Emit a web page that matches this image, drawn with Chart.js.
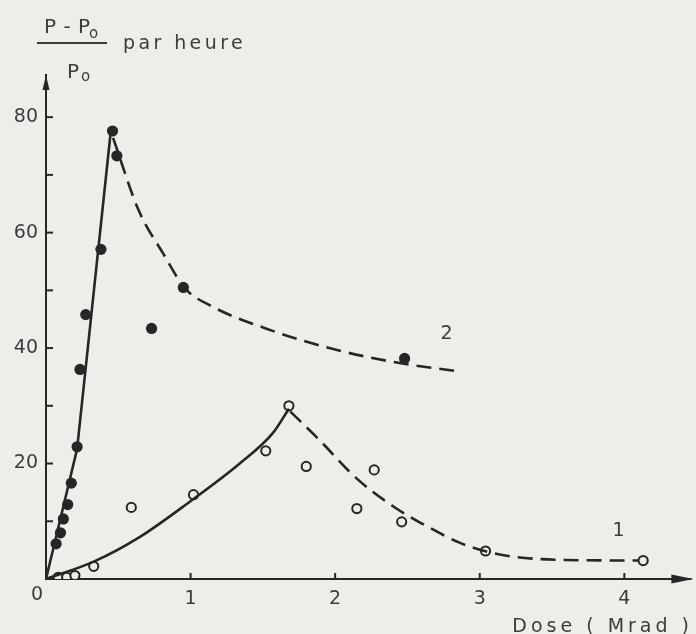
<!DOCTYPE html>
<html>
<head>
<meta charset="utf-8">
<script src="https://cdn.jsdelivr.net/npm/chart.js@4"></script>
<style>
  html, body { margin: 0; padding: 0; background: #eeede9; }
  #wrap { width: 696px; height: 634px; }
</style>
</head>
<body>
<div id="wrap"><canvas id="chart"></canvas></div>
<script>
// curve 1 (open circles)
const dose1 = [0.085, 0.143, 0.2, 0.33, 0.59, 1.02, 1.52, 1.68, 1.8, 2.15, 2.27, 2.46, 3.04, 4.13];
const rate1 = [0.3, 0.3, 0.6, 2.2, 12.4, 14.6, 22.2, 30.0, 19.5, 12.2, 18.9, 9.9, 4.85, 3.2];
// curve 2 (filled circles)
const dose2 = [0.07, 0.10, 0.12, 0.15, 0.175, 0.215, 0.235, 0.275, 0.38, 0.46, 0.49, 0.73, 0.95, 2.48];
const rate2 = [6.1, 8.0, 10.4, 12.9, 16.6, 22.9, 36.3, 45.8, 57.1, 77.6, 73.3, 43.4, 50.5, 38.2];

// hand-drawn fit lines
const fit1RiseDose = [0, 0.33, 0.65, 0.99, 1.34, 1.57, 1.68];
const fit1RiseRate = [0, 3.0, 7.3, 13.3, 20.0, 25.3, 29.5];
const fit1FallDose = [1.69, 1.89, 2.14, 2.4, 2.63, 2.86, 3.04, 3.25, 3.59, 4.1];
const fit1FallRate = [29.0, 24.1, 17.6, 12.6, 9.2, 6.3, 4.8, 3.8, 3.3, 3.2];
const fit2RiseDose = [0, 0.215, 0.45];
const fit2RiseRate = [0, 22.5, 78];
const fit2FallDose = [0.464, 0.64, 0.81, 0.96, 1.15, 1.52, 1.96, 2.4, 2.87];
const fit2FallRate = [76.4, 63.9, 56.4, 50.4, 47.2, 43.4, 40, 37.6, 35.9];

const curveNames = ['1', '2'];
const curveNameAt = [[3.96, 8.8], [2.77, 42.9]];

const xTicks = [0, 1, 2, 3, 4];
const yTicks = [0, 20, 40, 60, 80];

const BG = '#eeede9';
const INK = '#262626';
const TEXT = '#3c3c3c';
const FONT = '"DejaVu Sans", sans-serif';

const pts = (xs, ys) => xs.map((x, i) => ({ x: x, y: ys[i] }));

function fitLine(xs, ys, dashed, smooth) {
  return {
    data: pts(xs, ys),
    borderColor: INK,
    borderWidth: 2.6,
    borderDash: dashed ? [15, 8] : [],
    pointRadius: 0,
    fill: false,
    cubicInterpolationMode: smooth ? 'monotone' : 'default',
    tension: 0
  };
}

function text(ctx, str, x, y, size, align, spacing) {
  ctx.save();
  ctx.font = size + 'px ' + FONT;
  ctx.fillStyle = TEXT;
  ctx.textAlign = align || 'left';
  ctx.textBaseline = 'alphabetic';
  ctx.letterSpacing = (spacing || 0) + 'px';
  ctx.fillText(str, x, y);
  ctx.restore();
}

const decor = {
  id: 'decor',
  beforeDraw(chart) {
    const ctx = chart.ctx;
    ctx.save();
    ctx.fillStyle = BG;
    ctx.fillRect(0, 0, chart.width, chart.height);
    ctx.restore();
  },
  afterDraw(chart) {
    const ctx = chart.ctx;
    const xs = chart.scales.x, ys = chart.scales.y;
    const a = chart.chartArea;
    const x0 = xs.getPixelForValue(0), y0 = ys.getPixelForValue(0);

    ctx.save();
    ctx.strokeStyle = INK;
    ctx.fillStyle = INK;
    ctx.lineWidth = 2;

    // inward tick marks
    for (let v = 10; v < ys.max; v += 10) {
      const py = ys.getPixelForValue(v);
      ctx.beginPath(); ctx.moveTo(x0, py); ctx.lineTo(x0 + 7, py); ctx.stroke();
    }
    xTicks.slice(1).forEach(v => {
      const px = xs.getPixelForValue(v);
      ctx.beginPath(); ctx.moveTo(px, y0); ctx.lineTo(px, y0 - 6); ctx.stroke();
    });

    // axis arrows
    ctx.beginPath(); ctx.moveTo(a.right, y0); ctx.lineTo(a.right + 2, y0); ctx.stroke();
    ctx.beginPath();
    ctx.moveTo(a.right + 4, y0);
    ctx.lineTo(a.right - 18, y0 - 4.5);
    ctx.lineTo(a.right - 18, y0 + 4.5);
    ctx.closePath(); ctx.fill();
    ctx.beginPath();
    ctx.moveTo(x0, a.top);
    ctx.lineTo(x0 - 3.5, a.top + 15);
    ctx.lineTo(x0 + 3.5, a.top + 15);
    ctx.closePath(); ctx.fill();

    // fraction bar of the y title
    ctx.lineWidth = 2.2;
    ctx.strokeStyle = TEXT;
    ctx.beginPath(); ctx.moveTo(37, 43); ctx.lineTo(107, 43); ctx.stroke();
    ctx.restore();

    text(ctx, '0', x0 - 9, 600, 19, 'center');
    text(ctx, 'P - P', 44, 33, 20, 'left', 0.5);
    text(ctx, 'o', 89, 38, 15, 'left');
    text(ctx, 'P', 67, 78, 20, 'left');
    text(ctx, 'o', 81, 81, 15, 'left');
    text(ctx, 'par heure', 123, 49, 19, 'left', 3.4);
    text(ctx, 'Dose ( Mrad )', 693, 632, 19, 'right', 4);

    curveNames.forEach((n, i) => {
      const [cx, cy] = curveNameAt[i];
      text(ctx, n, xs.getPixelForValue(cx), ys.getPixelForValue(cy) + 8, 19, 'center');
    });
  }
};

new Chart(document.getElementById('chart'), {
  type: 'line',
  data: {
    datasets: [
      fitLine(fit1RiseDose, fit1RiseRate, false, true),
      fitLine(fit1FallDose, fit1FallRate, true, true),
      fitLine(fit2RiseDose, fit2RiseRate, false, false),
      fitLine(fit2FallDose, fit2FallRate, true, true),
      {
        data: pts(dose1, rate1),
        showLine: false,
        pointRadius: 4.6,
        pointBorderWidth: 2,
        pointBackgroundColor: BG,
        pointBorderColor: INK
      },
      {
        data: pts(dose2, rate2),
        showLine: false,
        pointRadius: 5.6,
        pointBorderWidth: 0,
        pointBackgroundColor: INK,
        pointBorderColor: INK
      }
    ]
  },
  options: {
    responsive: true,
    maintainAspectRatio: false,
    animation: false,
    layout: { padding: { top: 75, right: 5, left: 0, bottom: 0 } },
    plugins: { legend: { display: false }, tooltip: { enabled: false } },
    scales: {
      x: {
        type: 'linear',
        min: 0,
        max: 4.45,
        afterFit: s => { s.height = 55; },
        border: { display: true, color: INK, width: 2 },
        grid: { display: false, drawTicks: false },
        ticks: {
          stepSize: 1,
          includeBounds: false,
          padding: 9,
          color: TEXT,
          font: { family: FONT, size: 19 },
          maxRotation: 0,
          callback: v => (xTicks.includes(v) && v !== 0) ? v : ''
        }
      },
      y: {
        min: 0,
        max: 87.3,
        afterFit: s => { s.width = 46; },
        border: { display: true, color: INK, width: 2 },
        grid: { display: false, drawTicks: false },
        ticks: {
          stepSize: 10,
          includeBounds: false,
          padding: 8,
          color: TEXT,
          font: { family: FONT, size: 19 },
          callback: v => (yTicks.includes(v) && v !== 0) ? v : ''
        }
      }
    }
  },
  plugins: [decor]
});
</script>
</body>
</html>
